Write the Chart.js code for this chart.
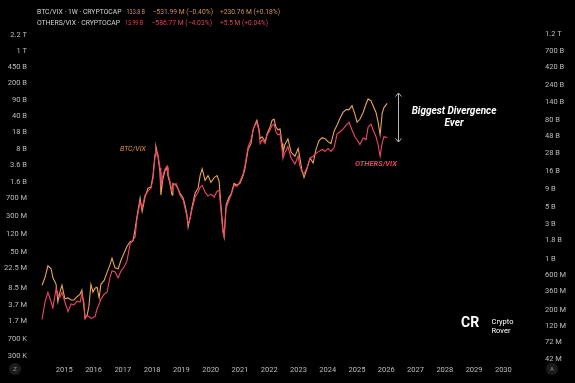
<!DOCTYPE html>
<html><head><meta charset="utf-8">
<script src="https://cdn.jsdelivr.net/npm/chart.js@4.4.1/dist/chart.umd.min.js"></script>
<style>html,body{margin:0;padding:0;background:#000;overflow:hidden}#wrap{width:575px;height:383px}</style>
</head><body><div id="wrap"><canvas id="c" width="575" height="383"></canvas></div>
<script>
// decimal-year positions of the samples
const dates = [2014.24,2014.34,2014.44,2014.55,2014.61,2014.72,2014.78,2014.85,2014.92,2015.02,2015.13,2015.23,2015.33,2015.43,2015.54,2015.60,2015.67,2015.71,2015.78,2015.84,2015.91,2015.98,2016.05,2016.12,2016.19,2016.25,2016.36,2016.46,2016.56,2016.63,2016.73,2016.84,2016.94,2017.04,2017.14,2017.25,2017.35,2017.42,2017.48,2017.59,2017.66,2017.76,2017.86,2017.96,2018.03,2018.10,2018.13,2018.20,2018.27,2018.30,2018.37,2018.44,2018.51,2018.54,2018.61,2018.68,2018.71,2018.82,2018.89,2018.95,2019.06,2019.12,2019.19,2019.23,2019.30,2019.36,2019.47,2019.57,2019.64,2019.71,2019.81,2019.91,2020.01,2020.12,2020.22,2020.29,2020.35,2020.42,2020.46,2020.53,2020.63,2020.70,2020.80,2020.90,2021.00,2021.11,2021.17,2021.28,2021.38,2021.45,2021.52,2021.58,2021.65,2021.69,2021.76,2021.86,2021.93,2022.03,2022.10,2022.17,2022.23,2022.30,2022.37,2022.44,2022.47,2022.54,2022.64,2022.75,2022.88,2022.99,2023.05,2023.12,2023.19,2023.29,2023.40,2023.50,2023.60,2023.70,2023.81,2023.91,2024.01,2024.11,2024.22,2024.32,2024.42,2024.52,2024.63,2024.73,2024.83,2024.93,2025.00,2025.10,2025.21,2025.31,2025.38,2025.48,2025.55,2025.65,2025.72,2025.79,2025.86,2025.92,2026.03];

// BTC/VIX in billions (right axis)
const btcVixB = [0.432,0.551,0.797,0.727,0.551,0.445,0.256,0.348,0.432,0.281,
0.29,0.272,0.272,0.299,0.327,0.371,0.220,0.152,0.167,0.220,
0.445,0.348,0.394,0.406,0.29,0.445,0.503,0.643,0.821,1.017,
0.749,0.727,0.956,1.185,1.47,1.71,1.76,2.55,3.68,6.79,
4.42,7.00,9.22,9.50,13.7,26.9,34.4,25.3,15.1,7.44,
12.5,16.0,17.5,13.7,10.7,7.44,10.7,10.1,8.94,7.91,
6.79,5.48,4.03,2.71,3.68,5.00,7.91,9.22,13.7,17.0,
11.8,13.7,11.1,12.9,13.7,11.4,5.48,2.55,2.00,5.48,
7.00,7.67,10.7,10.1,10.7,13.7,17.0,31.4,37.7,57.9,
69.6,78.6,59.8,44.0,46.7,40.1,51.3,63.5,78.6,81.0,
63.5,58.0,59.8,37.7,27.8,36.6,43.9,28.6,25.3,32.4,
23.8,16.0,12.9,17.0,23.8,20.4,31.4,41.3,45.3,44.0,
40.1,37.7,56.2,67.5,83.6,100.5,110,110,124.5,94.6,
74.0,81.0,100.5,132,154,145,124.5,100.5,74.0,49.8,
97.5,117.1,133.8];

// OTHERS/VIX in millions (left axis)
const othersVixM = [1.84,4.33,6.99,4.33,3.25,8.46,6.35,5.50,6.99,4.33,
2.69,3.94,3.75,4.54,4.33,6.35,4.33,1.93,2.22,2.12,
1.93,2.02,2.12,3.10,3.94,5.00,6.35,6.99,14.3,20.0,
19.1,14.3,20.0,24.2,32.2,76.2,92.3,106,251,594,
446,830,1005,1160,1870,5610,7830,6170,3160,1338,
2160,3010,3480,2380,1620,1054,1338,1470,1106,830,
654,446,290,198,263,405,755,958,1216,1338,
958,791,871,755,1005,1054,405,135,107,446,
654,830,1338,1276,1620,2380,3480,9040,12650,20400,
25900,29900,19400,10450,12650,10450,16060,20350,25900,27150,
18500,16060,16850,7830,5100,6790,9040,5100,3830,5610,
3480,2610,2380,3160,5100,5610,6470,7120,7830,7120,
8220,7120,8620,16850,18500,21350,25900,29900,20350,14600,
12650,9970,13900,12650,23500,27150,20350,14600,9970,5610,
10960,14600,13990];

const yearTicks = [2015,2016,2017,2018,2019,2020,2021,2022,2023,2024,2025,2026,2027,2028,2029,2030];
const leftTicks = [3e5,7e5,1.7e6,3.7e6,8.5e6,22.5e6,50e6,120e6,300e6,700e6,1.6e9,3.6e9,8e9,18e9,40e9,90e9,200e9,450e9,1e12,2.2e12];
const rightTicks = [42e6,72e6,120e6,200e6,360e6,600e6,1e9,1.8e9,3e9,5e9,9e9,16e9,28e9,48e9,80e9,140e9,240e9,420e9,700e9,1.2e12];

function trim(n){return String(+n.toFixed(2));}
function fmt(v){
  if(v>=1e12) return trim(v/1e12)+' T';
  if(v>=1e9) return trim(v/1e9)+' B';
  if(v>=1e6) return trim(v/1e6)+' M';
  return trim(v/1e3)+' K';
}

const FONT = 'Roboto, "Liberation Sans", sans-serif';
Chart.defaults.font.family = FONT;

const bg = {id:'bg', beforeDraw(c){const x=c.ctx;x.save();x.fillStyle='#000';x.fillRect(0,0,c.width,c.height);x.restore();}};

function fit(x, t, x0, x1, y){
  const w = x.measureText(t).width;
  x.save(); x.translate(x0, y); x.scale((x1-x0)/w, 1); x.fillText(t, 0, 0); x.restore();
}

const annot = {id:'annot', afterDraw(c){
  const x=c.ctx; x.save();
  x.textBaseline='middle'; x.textAlign='left';
  // legend
  x.font='7.5px '+FONT;
  x.fillStyle='#d6d6d6'; fit(x,'BTC/VIX · 1W · CRYPTOCAP',37,121.5,12.5);
  x.fillStyle='#d4924a'; fit(x,'133.8 B',126.5,145,12.5); fit(x,'−531.99 M (−0.40%)',152.5,213,12.5); fit(x,'+230.76 M (+0.18%)',220,280,12.5);
  x.fillStyle='#d6d6d6'; fit(x,'OTHERS/VIX · CRYPTOCAP',37,120,23.5);
  x.fillStyle='#d9435a'; fit(x,'13.99 B',125,143,23.5); fit(x,'−586.77 M (−4.03%)',151.5,212,23.5); fit(x,'+5.5 M (+0.04%)',220,268,23.5);
  // series labels
  x.font='italic 7px '+FONT; x.fillStyle='#e0913a'; x.fillText('BTC/VIX',120,149);
  x.font='italic bold 7.5px '+FONT; x.fillStyle='#e8405c'; x.fillText('OTHERS/VIX',355,164.5);
  // divergence text
  x.textAlign='center'; x.fillStyle='#ffffff'; x.font='italic bold 10px '+FONT;
  x.fillText('Biggest Divergence',454,111.5); x.fillText('Ever',454,123.5);
  // arrow
  x.strokeStyle='#b8b8b8'; x.lineWidth=1;
  x.beginPath(); x.moveTo(398.5,93); x.lineTo(398.5,142);
  x.moveTo(395.5,96.5); x.lineTo(398.5,93); x.lineTo(401.5,96.5);
  x.moveTo(395.5,138.5); x.lineTo(398.5,142); x.lineTo(401.5,138.5); x.stroke();
  // logo
  x.fillStyle='#ffffff'; x.textAlign='left';
  x.font='bold 14px '+FONT; x.fillText('CR',461,323.5);
  x.font='7.5px '+FONT; x.fillText('Crypto',491.5,321.7); x.fillText('Rover',491.5,330.7);
  // corner buttons
  x.fillStyle='#1c1c1c';
  x.beginPath(); x.arc(15,369,6,0,Math.PI*2); x.fill();
  x.beginPath(); x.arc(552,369,6,0,Math.PI*2); x.fill();
  x.fillStyle='#8a8a8a'; x.font='6px '+FONT; x.textAlign='center';
  x.fillText('Z',15,369.5); x.fillText('A',552,369.5);
  x.restore();
}};

const tickFont = {size:7.5, family:FONT};
new Chart(document.getElementById('c'), {
  type:'line',
  data:{datasets:[
    {label:'OTHERS/VIX', data:dates.map((d,i)=>({x:d,y:othersVixM[i]*1e6})), yAxisID:'yL', borderColor:'#f0456a', borderWidth:1.1, pointRadius:0, tension:0},
    {label:'BTC/VIX', data:dates.map((d,i)=>({x:d,y:btcVixB[i]*1e9})), yAxisID:'yR', borderColor:'#e9a552', borderWidth:1.1, pointRadius:0, tension:0}
  ]},
  options:{
    responsive:false, animation:false, devicePixelRatio:1,
    layout:{padding:0},
    plugins:{legend:{display:false}, tooltip:{enabled:false}},
    scales:{
      x:{type:'linear', position:'bottom', min:2013.931, max:2031.252,
        grid:{display:false, drawTicks:false}, border:{display:false},
        afterBuildTicks:s=>{s.ticks=yearTicks.map(v=>({value:v}));},
        afterFit:s=>{s.height=18;},
        ticks:{color:'#bdbdbd', font:tickFont, padding:1, maxRotation:0, autoSkip:false, callback:v=>String(v)}},
      yL:{type:'logarithmic', position:'left', min:1.956e5, max:7.26e12, bounds:'data',
        grid:{display:false, drawTicks:false}, border:{display:false},
        afterBuildTicks:s=>{s.ticks=leftTicks.map(v=>({value:v}));},
        afterFit:s=>{s.width=33;},
        ticks:{color:'#bdbdbd', font:tickFont, padding:6, autoSkip:false, callback:v=>fmt(v)}},
      yR:{type:'logarithmic', position:'right', min:3.494e7, max:2.503e12, bounds:'data',
        grid:{display:false, drawTicks:false}, border:{display:false},
        afterBuildTicks:s=>{s.ticks=rightTicks.map(v=>({value:v}));},
        afterFit:s=>{s.width=35;},
        ticks:{color:'#bdbdbd', font:tickFont, padding:5, autoSkip:false, callback:v=>fmt(v)}}
    }
  },
  plugins:[bg, annot]
});
</script></body></html>
